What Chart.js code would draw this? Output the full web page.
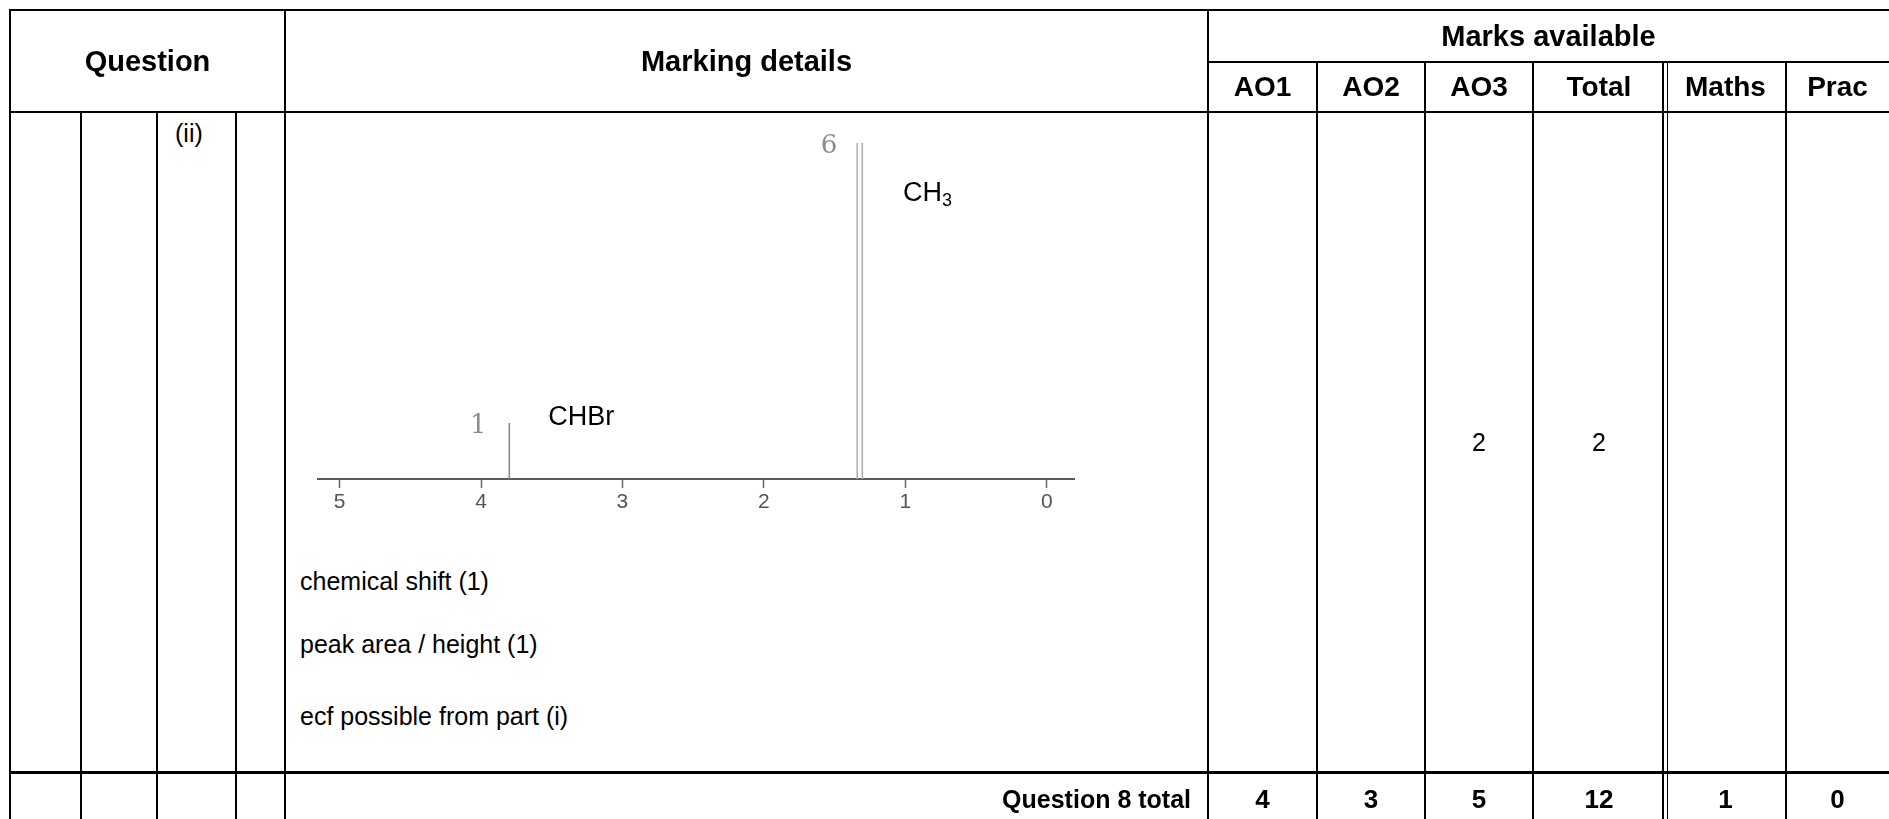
<!DOCTYPE html>
<html>
<head>
<meta charset="utf-8">
<script src="https://cdn.jsdelivr.net/npm/chart.js@4.4.0/dist/chart.umd.min.js"></script>
<style>
  html, body { margin:0; padding:0; background:#fff; }
  body { width:1889px; height:819px; position:relative; overflow:hidden; font-family:"Liberation Sans", Arial, sans-serif; color:#000; }
  .ln { position:absolute; background:#000; }
  .cell { position:absolute; display:flex; align-items:center; justify-content:center; white-space:nowrap; }
  .hd { font-weight:bold; font-size:28px; }
  .hd1 { font-weight:bold; font-size:29px; }
  .bd { font-size:25px; }
  .txt { position:absolute; font-size:25px; white-space:nowrap; line-height:1; }
  #specWrap { position:absolute; left:317px; top:100px; width:758px; height:419px; }
</style>
</head>
<body>
<div id="specWrap"><canvas id="spec"></canvas></div>
<script>
// ---- data ----
const tickValues = [5, 4, 3, 2, 1, 0];
const lineShifts = [3.80, 1.340, 1.304];
const lineHeights = [1.0, 6.0, 6.0];
const lineColors = ['#8a8a8a', '#b0b0b0', '#b0b0b0'];
const groupLabels = ['CHBr', 'CH3'];
const groupShifts = [3.80, 1.32];
const groupHeights = [1.0, 6.0];
const groupIntegrations = ['1', '6'];
const headerTop = ['Question', 'Marking details', 'Marks available'];
const markCols = ['AO1', 'AO2', 'AO3', 'Total', 'Maths', 'Prac'];
const partLabel = '(ii)';
const rowMarks = ['', '', '2', '2', '', ''];
const totalLabel = 'Question 8 total';
const totalMarks = ['4', '3', '5', '12', '1', '0'];
const markingLines = ['chemical shift (1)', 'peak area / height (1)', 'ecf possible from part (i)'];

// ---- table drawing ----
const colX = [10, 81, 157, 236, 285, 1208, 1317, 1425, 1533, 1665, 1786, 1889];
const yTop = 10, yMid = 62, yHead = 112, yBody = 772, yEnd = 819;
function el(cls, css, text) {
  const d = document.createElement('div');
  d.className = cls;
  Object.assign(d.style, css);
  if (text !== undefined) d.textContent = text;
  document.body.appendChild(d);
  return d;
}
function hline(x1, x2, y, w) { el('ln', {left:x1+'px', top:(y - w/2)+'px', width:(x2-x1)+'px', height:w+'px'}); }
function vline(x, y1, y2, w) { el('ln', {left:(x - w/2)+'px', top:y1+'px', width:w+'px', height:(y2-y1)+'px'}); }
function cell(cls, x1, x2, y1, y2, text, extra) {
  return el('cell ' + cls, Object.assign({left:x1+'px', top:y1+'px', width:(x2-x1)+'px', height:(y2-y1)+'px'}, extra || {}), text);
}

hline(9, 1889, yTop, 2);
hline(1208, 1889, yMid, 2);
hline(9, 1889, yHead, 2);
hline(9, 1889, yBody, 3);
vline(10, yTop - 1, yEnd, 2);
[81, 157, 236].forEach(x => vline(x, yHead, yEnd, 2));
vline(285, yTop - 1, yEnd, 2);
vline(1208, yTop - 1, yEnd, 2);
[1317, 1425, 1533, 1786].forEach(x => vline(x, yMid, yEnd, 2));
vline(1663, yMid, yEnd, 1.5);
vline(1667.5, yMid, yEnd, 1.5);

cell('hd1', 10, 285, yTop, yHead, headerTop[0]);
cell('hd1', 285, 1208, yTop, yHead, headerTop[1]);
cell('hd1', 1208, 1889, yTop, yMid, headerTop[2]);
for (let i = 0; i < markCols.length; i++) {
  const x1 = colX[5 + i], x2 = colX[6 + i];
  cell('hd', x1, x2, yMid, yHead, markCols[i]);
  if (rowMarks[i]) cell('bd', x1, x2, yHead, yBody, rowMarks[i]);
  cell('hd', x1, x2, yBody, yEnd + 8, totalMarks[i], {fontSize:'26px'});
}
el('txt', {left:'175px', top:'121px'}, partLabel);
const mlTops = [569, 632, 704];
markingLines.forEach((t, i) => el('txt', {left:'300px', top:mlTops[i]+'px'}, t));
cell('hd', 285, 1191, yBody, yEnd + 8, totalLabel, {justifyContent:'flex-end', fontSize:'25px'});

// ---- spectrum ----
const datasets = lineShifts.map((s, i) => ({
  data: [{x: s, y: 0}, {x: s, y: lineHeights[i]}],
  borderColor: lineColors[i],
  borderWidth: 1.6,
  pointRadius: 0,
  showLine: true
}));

const labelPlugin = {
  id: 'peakLabels',
  afterDatasetsDraw(chart) {
    const ctx = chart.ctx, xs = chart.scales.x, ys = chart.scales.y;
    ctx.save();
    groupLabels.forEach((lab, i) => {
      const px = xs.getPixelForValue(groupShifts[i]);
      const py = ys.getPixelForValue(groupHeights[i]);
      ctx.fillStyle = '#8c8c8c';
      ctx.font = '26px "DejaVu Serif", serif';
      ctx.textAlign = 'center';
      ctx.textBaseline = 'middle';
      ctx.fillText(groupIntegrations[i], px - 31, py + 3);
      ctx.fillStyle = '#000';
      ctx.font = '27px "Liberation Sans", Arial, sans-serif';
      ctx.textAlign = 'left';
      ctx.textBaseline = 'middle';
      const lx = px + (i === 0 ? 39 : 43);
      const ly = py + (i === 0 ? -5 : 50);
      const m = lab.match(/^(.*?)(\d+)$/);
      if (m) {
        ctx.fillText(m[1], lx, ly);
        const w = ctx.measureText(m[1]).width;
        ctx.font = '18px "Liberation Sans", Arial, sans-serif';
        ctx.fillText(m[2], lx + w, ly + 8);
      } else {
        ctx.fillText(lab, lx, ly);
      }
    });
    ctx.restore();
  }
};

new Chart(document.getElementById('spec'), {
  type: 'scatter',
  data: { datasets },
  options: {
    responsive: true,
    maintainAspectRatio: false,
    animation: false,
    events: [],
    layout: { padding: 0 },
    plugins: { legend: { display: false }, tooltip: { enabled: false } },
    scales: {
      x: {
        type: 'linear',
        min: -0.2,
        max: 5.16,
        reverse: true,
        afterBuildTicks: s => { s.ticks = tickValues.map(v => ({ value: v })); },
        afterFit: s => { s.height = 40; },
        grid: { drawOnChartArea: false, drawTicks: true, tickLength: 9, tickColor: '#666', tickWidth: 1.5 },
        border: { display: true, color: '#5a5a5a', width: 2 },
        ticks: { color: '#555', font: { size: 21, family: '"Liberation Sans", Arial, sans-serif' }, padding: 2, autoSkip: false, maxRotation: 0 }
      },
      y: { display: false, min: 0, max: 6.77 }
    }
  },
  plugins: [labelPlugin]
});
</script>
</body>
</html>
